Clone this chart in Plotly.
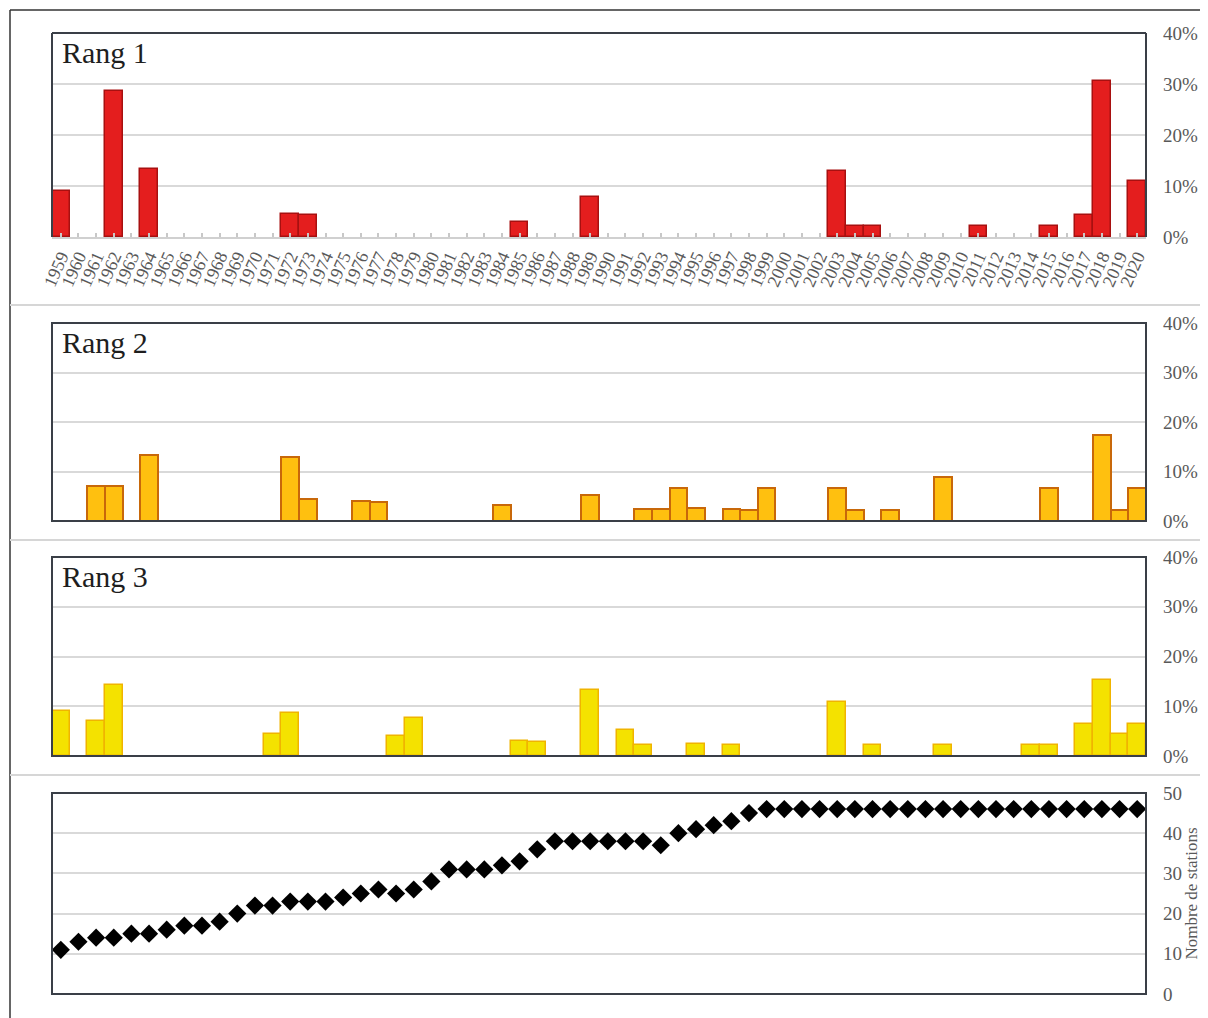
import plotly.graph_objects as go

# ---------------- data ----------------
years = list(range(1959, 2021))

rang1_years = [1959, 1962, 1964, 1972, 1973, 1985, 1989, 2003, 2004, 2005, 2011, 2015, 2017, 2018, 2020]
rang1_values = [9.1, 28.6, 13.3, 4.5, 4.4, 3.0, 7.9, 13.0, 2.2, 2.2, 2.2, 2.2, 4.4, 30.5, 10.9]

rang2_years = [1961, 1962, 1964, 1972, 1973, 1976, 1977, 1984, 1989, 1992, 1993, 1994, 1995,
               1997, 1998, 1999, 2003, 2004, 2006, 2009, 2015, 2018, 2019, 2020]
rang2_values = [7.1, 7.1, 13.3, 13.0, 4.4, 4.0, 3.8, 3.2, 5.3, 2.4, 2.4, 6.6, 2.6,
                2.5, 2.3, 6.6, 6.6, 2.2, 2.2, 8.8, 6.6, 17.4, 2.2, 6.6]

rang3_years = [1959, 1961, 1962, 1971, 1972, 1978, 1979, 1985, 1986, 1989, 1991, 1992, 1995,
               1997, 2003, 2005, 2009, 2014, 2015, 2017, 2018, 2019, 2020]
rang3_values = [9.1, 7.1, 14.3, 4.5, 8.7, 4.0, 7.7, 3.0, 2.8, 13.2, 5.3, 2.3, 2.4,
                2.3, 10.9, 2.2, 2.2, 2.2, 2.2, 6.5, 15.2, 4.4, 6.5]

stations = [11, 13, 14, 14, 15, 15, 16, 17, 17, 18, 20, 22, 22, 23, 23, 23, 24, 25, 26, 25,
            26, 28, 31, 31, 31, 32, 33, 36, 38, 38, 38, 38, 38, 38, 37, 40, 41, 42, 43, 45,
            46, 46, 46, 46, 46, 46, 46, 46, 46, 46, 46, 46, 46, 46, 46, 46, 46, 46, 46, 46, 46, 46]

pct_ticks = [0, 10, 20, 30, 40]
pct_labels = ["0%", "10%", "20%", "30%", "40%"]
station_ticks = [0, 10, 20, 30, 40, 50]
panel_titles = ["Rang 1", "Rang 2", "Rang 3"]

# ---------------- layout constants ----------------
OFF = 8                      # page body margin in the browser
W, H = 1208 - OFF, 1018 - OFF
X0, X1 = 52 - OFF, 1146 - OFF
panels_px = [(33, 237), (323, 521), (557, 756), (793, 994)]
FONT = "Liberation Serif"
GRAY_TXT = "#595959"
BOX = "#3a3f47"
GRID = "#d9d9d9"

def ydom(top, bot):
    return [1 - (bot - OFF) / H, 1 - (top - OFF) / H]

def py(px):
    return 1 - (px - OFF) / H

def pxx(px):
    return (px - OFF) / W

fig = go.Figure()

bar_styles = [
    ("#e41e1e", "#a81010", 1.5),
    ("#ffc00f", "#c8680a", 2),
    ("#f4e200", "#f0b400", 1.5),
]
bar_data = [(rang1_years, rang1_values), (rang2_years, rang2_values), (rang3_years, rang3_values)]

for i, ((yrs, vals), (fc, lc, lw)) in enumerate(zip(bar_data, bar_styles)):
    n = "" if i == 0 else str(i + 1)
    fig.add_trace(go.Bar(x=yrs, y=vals, width=1, xaxis="x" + n, yaxis="y" + n,
                         marker=dict(color=fc, line=dict(color=lc, width=lw)),
                         hoverinfo="x+y"))

fig.add_trace(go.Scatter(x=years, y=stations, mode="markers", xaxis="x4", yaxis="y4",
                         marker=dict(symbol="diamond", size=14, color="black"),
                         cliponaxis=False))

layout = dict(width=W, height=H, autosize=False, margin=dict(l=0, r=0, t=0, b=0, autoexpand=False),
              paper_bgcolor="white", plot_bgcolor="white", showlegend=False,
              font=dict(family=FONT, color=GRAY_TXT), bargap=0, template="none")

for i, (top, bot) in enumerate(panels_px):
    n = "" if i == 0 else str(i + 1)
    xa = dict(domain=[X0 / W, X1 / W], range=[1958.5, 2020.5], anchor="y" + n,
              showgrid=False, zeroline=False, showline=False, fixedrange=True, automargin=False)
    if i == 0:
        xa.update(tickmode="array", tickvals=years, ticktext=[str(y) for y in years],
                  tickangle=-66, tickfont=dict(family=FONT, size=18, color=GRAY_TXT),
                  ticks="inside", ticklen=4, tickcolor="#c8c8c8", tickwidth=1.5,
                  showline=True, linecolor="#d0d0d0", linewidth=2)
    else:
        xa.update(showticklabels=False, ticks="")
    ya = dict(domain=ydom(top, bot), anchor="x" + n, side="right", automargin=False,
              showgrid=True, gridcolor=GRID, gridwidth=2, zeroline=False, showline=False,
              ticks="", tickfont=dict(family=FONT, size=19, color=GRAY_TXT),
              ticklabelstandoff=16, fixedrange=True)
    if i < 3:
        ya.update(range=[0, 40], tickmode="array", tickvals=pct_ticks, ticktext=pct_labels)
    else:
        ya.update(range=[0, 50], tickmode="array", tickvals=station_ticks,
                  title=dict(text="Nombre de stations", font=dict(family=FONT, size=17, color=GRAY_TXT),
                             standoff=3))
    layout["xaxis" + n] = xa
    layout["yaxis" + n] = ya

fig.update_layout(**layout)

shapes = []
# plot boxes
for i in range(4):
    n = "" if i == 0 else str(i + 1)
    xr, yr = "x" + n + " domain", "y" + n + " domain"
    if i == 0:
        for (a0, b0, a1, b1) in [(0, 0, 0, 1), (0, 1, 1, 1), (1, 1, 1, 0)]:
            shapes.append(dict(type="line", xref=xr, yref=yr, x0=a0, y0=b0, x1=a1, y1=b1,
                               line=dict(color=BOX, width=2), layer="above"))
    else:
        shapes.append(dict(type="rect", xref=xr, yref=yr, x0=0, y0=0, x1=1, y1=1,
                           line=dict(color=BOX, width=2), layer="above"))

# outer frame
shapes.append(dict(type="line", xref="paper", yref="paper", x0=pxx(10), y0=py(10), x1=1.01, y1=py(10),
                   line=dict(color="#333333", width=1.5)))
shapes.append(dict(type="line", xref="paper", yref="paper", x0=pxx(10), y0=py(10), x1=pxx(10), y1=-0.01,
                   line=dict(color="#333333", width=1.5)))
# separators between panels
for ypx in [305, 540, 775]:
    shapes.append(dict(type="line", xref="paper", yref="paper", x0=pxx(10), y0=py(ypx), x1=1.01, y1=py(ypx),
                       line=dict(color="#d6d6d6", width=2)))

annotations = []
for i, t in enumerate(panel_titles):
    n = "" if i == 0 else str(i + 1)
    annotations.append(dict(text=t, xref="x" + n + " domain", yref="y" + n + " domain",
                            x=0.0075, y=1, xanchor="left", yanchor="top", yshift=-1,
                            showarrow=False, font=dict(family=FONT, size=30, color="#1e1e1e")))

fig.update_layout(shapes=shapes, annotations=annotations)

fig.write_html("out.html")
